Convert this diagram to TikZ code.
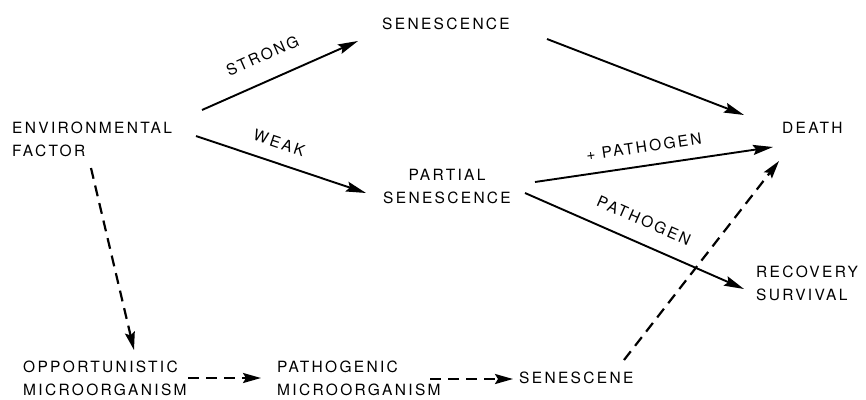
\documentclass[tikz,border=0pt]{standalone}
\usepackage{fontspec}
\setmainfont{TeX Gyre Heros}[LetterSpace=15]
\usetikzlibrary{arrows.meta}
\begin{document}
\begin{tikzpicture}[x=1pt,y=-1pt,
  txt/.style={font=\fontsize{15.5}{23}\selectfont, inner sep=0pt},
  lab/.style={font=\fontsize{15.5}{23}\selectfont, inner sep=0pt, sloped},
  arr/.style={line width=1.9pt, -{Stealth[length=20pt,width=10pt,inset=3pt]}},
  darr/.style={line width=2.2pt, dash pattern=on 11pt off 7pt, -{Stealth[length=18pt,width=10pt,inset=3pt]}}
]
\useasboundingbox (0,0) rectangle (866,399);

% nodes
\node[txt, anchor=west, align=left] (env) at (12,139.5) {ENVIRONMENTAL\\FACTOR};
\node[txt] (sen) at (446,23.5) {SENESCENCE};
\node[txt, align=center] (psen) at (447,186.5) {PARTIAL\\SENESCENCE};
\node[txt, anchor=west] (death) at (782,128) {DEATH};
\node[txt, anchor=west, align=left] (rec) at (756,283) {RECOVERY\\SURVIVAL};
\node[txt, anchor=west, align=left] (opp) at (23,378) {OPPORTUNISTIC\\MICROORGANISM};
\node[txt, anchor=west, align=left] (path) at (277,378) {PATHOGENIC\\MICROORGANISM};
\node[txt, anchor=west] (sen2) at (519,378) {SENESCENE};

% solid connectors
\draw[arr] ([shift={(190,-29.5)}]env.west) -- node[lab, pos=0.453, above=18.3pt] {STRONG} ([shift={(-88,17.5)}]sen.center);
\draw[arr] ([shift={(184,-3.5)}]env.west) -- node[lab, pos=0.452, above=13.3pt] {WEAK} ([shift={(-81,6.5)}]psen.center);
\draw[arr] ([shift={(101,15.5)}]sen.center) -- ([shift={(-38,-13)}]death.west);
\draw[arr] ([shift={(88,-4.5)}]psen.center) -- node[lab, pos=0.469, above=12.3pt] {+ PATHOGEN} ([shift={(-9,19)}]death.west);
\draw[arr] ([shift={(78,6.5)}]psen.center) -- node[lab, pos=0.502, above=15.5pt] {PATHOGEN} ([shift={(-12,6)}]rec.west);

% dashed connectors
\draw[darr] ([shift={(79,28.5)}]env.west) -- ([shift={(111,-28)}]opp.west);
\draw[darr] ([shift={(165,0)}]opp.west) -- ([shift={(-16,0)}]path.west);
\draw[darr] ([shift={(153,1)}]path.west) -- ([shift={(-6,1)}]sen2.west);
\draw[darr] ([shift={(105,-18)}]sen2.west) -- ([shift={(-3,33)}]death.west);
\end{tikzpicture}
\end{document}
